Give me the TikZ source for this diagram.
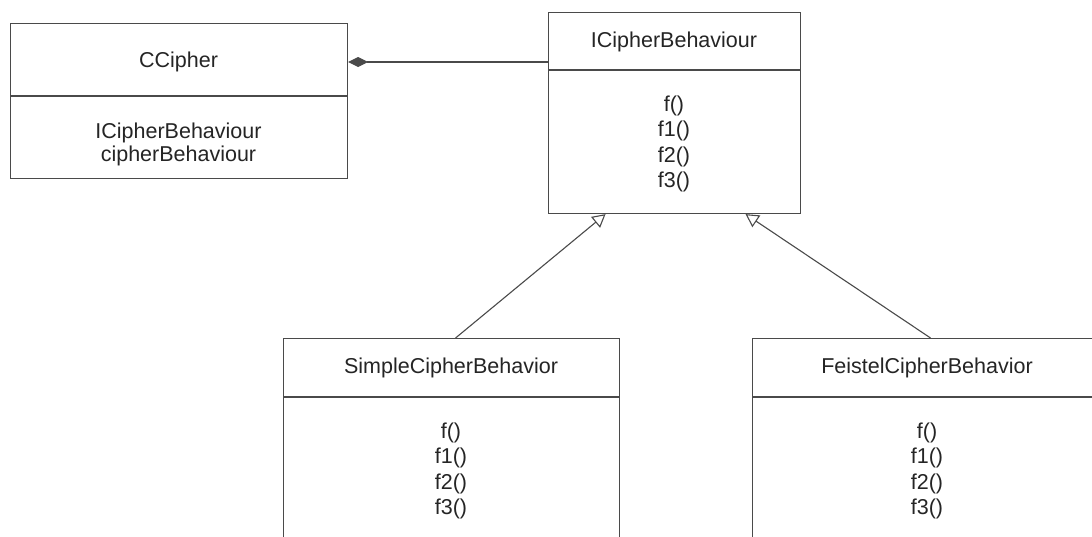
\documentclass[tikz,border=0pt]{standalone}
\usepackage{fontspec}
\setmainfont{Liberation Sans}
\usetikzlibrary{arrows.meta}
\definecolor{linec}{HTML}{4A4A4A}
\definecolor{textc}{HTML}{252525}
\begin{document}
\begin{tikzpicture}[x=1pt,y=-1pt,
  umlbox/.style={draw=linec, line width=1.1pt, rectangle, inner sep=0pt, anchor=north west},
  txt/.style={text=textc, inner sep=0pt, font=\fontsize{21.5}{25.5}\selectfont, align=center},
  divider/.style={draw=linec, line width=1.1pt},
  conn/.style={draw=linec, line width=1.1pt},
  comp/.style={conn, {Diamond[length=20pt,width=10pt,fill=linec]}-},
  gen/.style={conn, -{Triangle[open,length=13pt,width=14pt,fill=white]}}
]
\clip (0,0) rectangle (1092,536);
\fill[white] (0,0) rectangle (1092,536);

% CCipher
\node[umlbox, minimum width=337pt, minimum height=155pt] (cc) at (10,23) {};
\draw[divider] ([yshift=-73pt]cc.north west) -- ([yshift=-73pt]cc.north east);
\node[txt] (cct) at (178.5,62) {CCipher};
\node[txt, font=\fontsize{21.5}{23}\selectfont] (cca) at (178.5,144.5) {ICipherBehaviour\\cipherBehaviour};

% ICipherBehaviour
\node[umlbox, minimum width=252pt, minimum height=201pt] (icb) at (548,12) {};
\draw[divider] ([yshift=-58pt]icb.north west) -- ([yshift=-58pt]icb.north east);
\node[txt] (icbt) at (674,42) {ICipherBehaviour};
\node[txt] (icbm) at (674,144) {f()\\f1()\\f2()\\f3()};

% SimpleCipherBehavior
\node[umlbox, minimum width=336pt, minimum height=230pt] (scb) at (283,338) {};
\draw[divider] ([yshift=-59pt]scb.north west) -- ([yshift=-59pt]scb.north east);
\node[txt] (scbt) at (451,368) {SimpleCipherBehavior};
\node[txt] (scbm) at (451,471) {f()\\f1()\\f2()\\f3()};

% FeistelCipherBehavior
\node[umlbox, minimum width=350pt, minimum height=230pt] (fcb) at (752,338) {};
\draw[divider] ([yshift=-59pt]fcb.north west) -- ([yshift=-59pt]fcb.north east);
\node[txt] (fcbt) at (927,368) {FeistelCipherBehavior};
\node[txt] (fcbm) at (927,471) {f()\\f1()\\f2()\\f3()};

% connectors
\draw[comp] (cct -| cc.east) -- (cct -| icb.west);
\draw[gen] ([xshift=4pt]scb.north) -- ([xshift=-69pt]icb.south);
\draw[gen] ([xshift=3pt]fcb.north) -- ([xshift=71pt]icb.south);
\end{tikzpicture}
\end{document}
